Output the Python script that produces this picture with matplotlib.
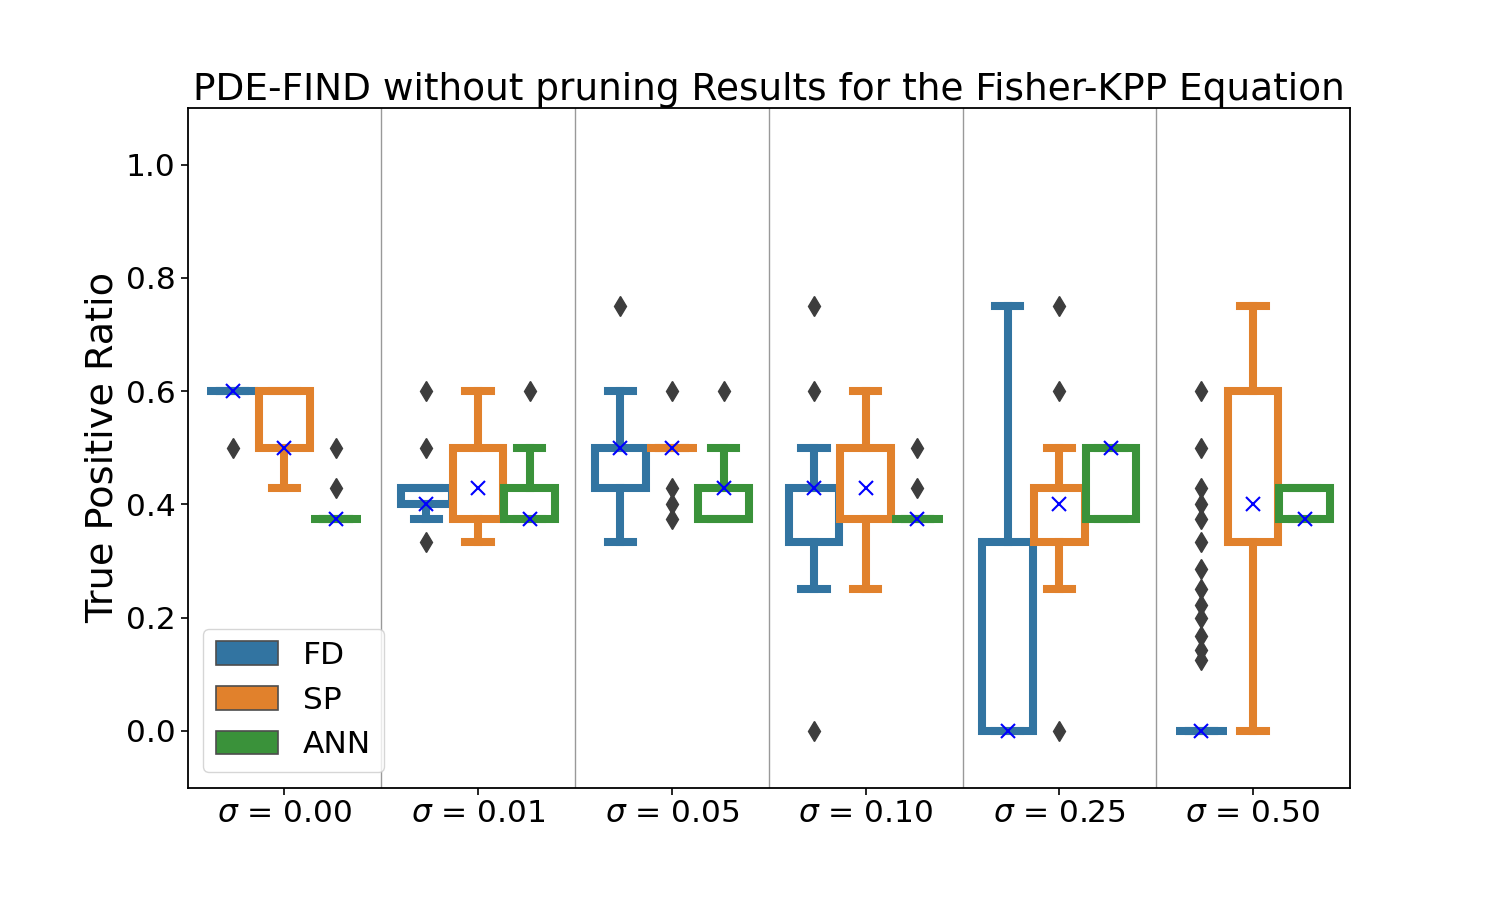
import matplotlib
matplotlib.use("Agg")
import matplotlib.pyplot as plt
from matplotlib.patches import Patch
import numpy as np

sigmas = ["0.00", "0.01", "0.05", "0.10", "0.25", "0.50"]
methods = ["FD", "SP", "ANN"]
colors = ["#3274a1", "#e1812c", "#3a923a"]

# FD
fd_q1 = [0.6, 0.4, 0.4286, 0.3333, 0.0, 0.0]
fd_q3 = [0.6, 0.4286, 0.5, 0.4286, 0.3333, 0.0]
fd_lo = [0.6, 0.375, 0.3333, 0.25, 0.0, 0.0]
fd_hi = [0.6, 0.4286, 0.6, 0.5, 0.75, 0.0]
fd_med = [0.6, 0.4, 0.5, 0.4286, 0.0, 0.0]
fd_fliers = [[0.5], [0.6, 0.5, 0.3333], [0.75], [0.75, 0.6, 0.0], [],
             [0.6, 0.5, 0.4286, 0.4, 0.375, 0.3333, 0.2857, 0.25, 0.2222,
              0.2, 0.1667, 0.1429, 0.125]]
# SP
sp_q1 = [0.5, 0.375, 0.5, 0.375, 0.3333, 0.3333]
sp_q3 = [0.6, 0.5, 0.5, 0.5, 0.4286, 0.6]
sp_lo = [0.4286, 0.3333, 0.5, 0.25, 0.25, 0.0]
sp_hi = [0.6, 0.6, 0.5, 0.6, 0.5, 0.75]
sp_med = [0.5, 0.4286, 0.5, 0.4286, 0.4, 0.4]
sp_fliers = [[], [], [0.6, 0.4286, 0.4, 0.375], [], [0.75, 0.6, 0.0], []]
# ANN
ann_q1 = [0.375, 0.375, 0.375, 0.375, 0.375, 0.375]
ann_q3 = [0.375, 0.4286, 0.4286, 0.375, 0.5, 0.4286]
ann_lo = [0.375, 0.375, 0.375, 0.375, 0.375, 0.375]
ann_hi = [0.375, 0.5, 0.5, 0.375, 0.5, 0.4286]
ann_med = [0.375, 0.375, 0.4286, 0.375, 0.5, 0.375]
ann_fliers = [[0.5, 0.4286], [0.6], [0.6], [0.5, 0.4286], [], []]

series = [
    (fd_q1, fd_q3, fd_lo, fd_hi, fd_med, fd_fliers),
    (sp_q1, sp_q3, sp_lo, sp_hi, sp_med, sp_fliers),
    (ann_q1, ann_q3, ann_lo, ann_hi, ann_med, ann_fliers),
]

fig, ax = plt.subplots(figsize=(15, 9), dpi=100)
fig.subplots_adjust(left=0.125, right=0.9, top=0.88, bottom=0.125)

group_w = 0.8
n = len(methods)
each = group_w / n
lw = 5.8
for k, (q1, q3, lo, hi, med, fl) in enumerate(series):
    offset = -group_w / 2 + each * (k + 0.5)
    pos = np.arange(len(sigmas)) + offset
    stats = []
    for i in range(len(sigmas)):
        stats.append(dict(q1=q1[i], q3=q3[i], whislo=lo[i], whishi=hi[i],
                          med=med[i], fliers=fl[i]))
    c = colors[k]
    ax.bxp(stats, positions=pos, widths=each * 0.98, patch_artist=True,
           boxprops=dict(facecolor="white", edgecolor=c, linewidth=lw),
           whiskerprops=dict(color=c, linewidth=lw),
           capprops=dict(color=c, linewidth=lw),
           medianprops=dict(visible=False),
           flierprops=dict(marker="d", markerfacecolor="#3d3d3d",
                           markeredgecolor="#3d3d3d", markersize=10),
           manage_ticks=False, zorder=2)
    ax.plot(pos, med, linestyle="none", marker="x", color="blue",
            markersize=10, markeredgewidth=1.5, zorder=5)

for i in range(len(sigmas) - 1):
    ax.axvline(i + 0.5, color="#999999", linewidth=1.0, zorder=1)

ax.set_xlim(-0.5, len(sigmas) - 0.5)
ax.set_ylim(-0.1, 1.1)
ax.set_xticks(np.arange(len(sigmas)))
ax.set_xticklabels([r"$\sigma$ = " + s for s in sigmas])
ax.set_yticks([0.0, 0.2, 0.4, 0.6, 0.8, 1.0])
ax.tick_params(axis="both", labelsize=22.5, length=5, width=1.2)
ax.set_ylabel("True Positive Ratio", fontsize=27.5)
ax.set_title("PDE-FIND without pruning Results for the Fisher-KPP Equation",
             fontsize=27)
for sp in ax.spines.values():
    sp.set_linewidth(1.3)

handles = [Patch(facecolor=c, edgecolor="#4d4d4d", linewidth=1.2, label=m)
           for c, m in zip(colors, methods)]
ax.legend(handles=handles, loc="lower left", fontsize=22.5,
          handlelength=2.0, handleheight=0.8)

fig.savefig("out.png", dpi=100)
